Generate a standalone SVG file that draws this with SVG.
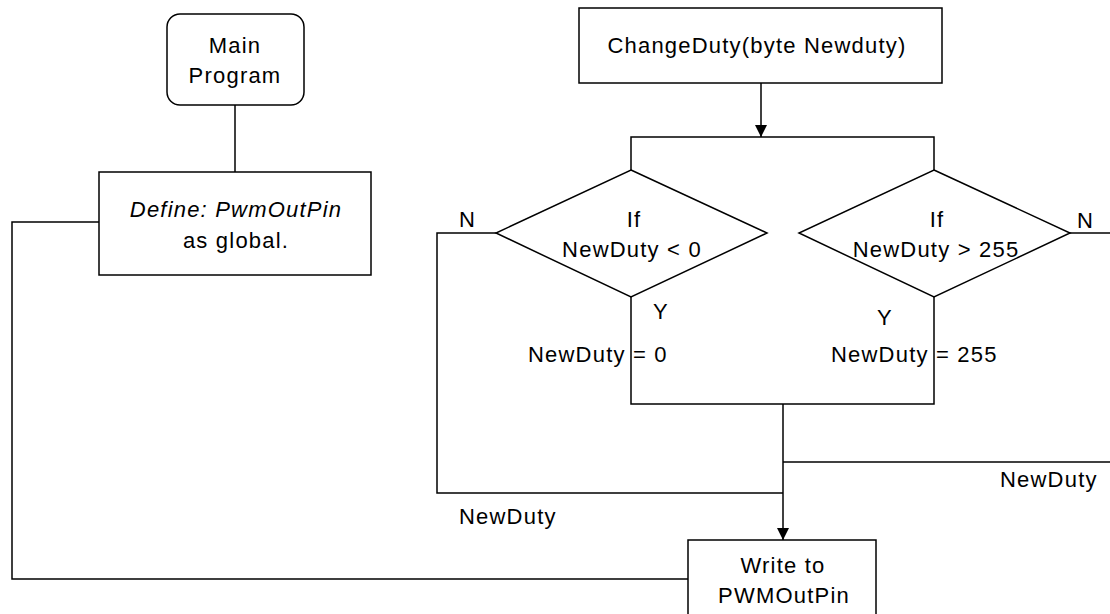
<svg xmlns="http://www.w3.org/2000/svg" width="1110" height="614" viewBox="0 0 1110 614">
  <style>
    .shape { fill: #ffffff; stroke: #000000; stroke-width: 1.5; }
    .wire { fill: none; stroke: #000000; stroke-width: 1.5; }
    text { font-family: "Liberation Sans", Arial, sans-serif; font-size: 22px; fill: #000000; letter-spacing: 1.2px; }
    .mid { text-anchor: middle; }
    .it { font-style: italic; }
  </style>
  <defs>
    <marker id="arrow" viewBox="0 0 12 12" refX="12" refY="6" markerWidth="12" markerHeight="12" markerUnits="userSpaceOnUse" orient="auto">
      <path d="M0,0 L12,6 L0,12 z" fill="#000000"/>
    </marker>
  </defs>
  <rect width="1110" height="614" fill="#ffffff"/>

  <!-- connectors -->
  <g id="connectors">
    <path class="wire" d="M235,105 V172"/>
    <path class="wire" d="M99,222 H12 V579 H688"/>
    <path class="wire" d="M761,83 V137" marker-end="url(#arrow)"/>
    <path class="wire" d="M631,170 V137 H934 V170"/>
    <path class="wire" d="M496,233 H437 V493 H783"/>
    <path class="wire" d="M631,297 V404 H934 V297"/>
    <path class="wire" d="M1070,233 H1112"/>
    <path class="wire" d="M783,462 H1112"/>
    <path class="wire" d="M783,404 V540" marker-end="url(#arrow)"/>
  </g>

  <!-- main program -->
  <g id="main-program">
    <rect class="shape" x="167" y="14" width="137" height="91" rx="13" ry="13"/>
    <text class="mid" x="235" y="53">Main</text>
    <text class="mid" x="235" y="83">Program</text>
  </g>

  <g id="define-pin">
    <rect class="shape" x="99" y="172" width="272" height="103"/>
    <text class="mid it" x="236" y="217">Define: PwmOutPin</text>
    <text class="mid" x="236" y="248">as global.</text>
  </g>

  <!-- change duty routine -->
  <g id="change-duty">
    <rect class="shape" x="579" y="8" width="363" height="75"/>
    <text class="mid" x="757" y="53">ChangeDuty(byte Newduty)</text>
  </g>

  <g id="check-low">
    <polygon class="shape" points="631,170 767,233 631,297 496,233"/>
    <text class="mid" x="634" y="227">If</text>
    <text class="mid" x="632" y="257">NewDuty &lt; 0</text>
    <text x="459" y="227">N</text>
    <text x="653" y="319">Y</text>
    <text x="528" y="362">NewDuty = 0</text>
  </g>

  <g id="check-high">
    <polygon class="shape" points="934,170 1070,233 934,297 799,233"/>
    <text class="mid" x="937" y="227">If</text>
    <text class="mid" x="936" y="257">NewDuty &gt; 255</text>
    <text x="1077" y="228">N</text>
    <text x="877" y="325">Y</text>
    <text x="831" y="362">NewDuty = 255</text>
  </g>

  <g id="duty-labels">
    <text x="459" y="524">NewDuty</text>
    <text x="1000" y="487">NewDuty</text>
  </g>

  <g id="write-pin">
    <rect class="shape" x="688" y="540" width="188" height="100"/>
    <text class="mid" x="783" y="573">Write to</text>
    <text class="mid" x="784" y="603">PWMOutPin</text>
  </g>
</svg>
